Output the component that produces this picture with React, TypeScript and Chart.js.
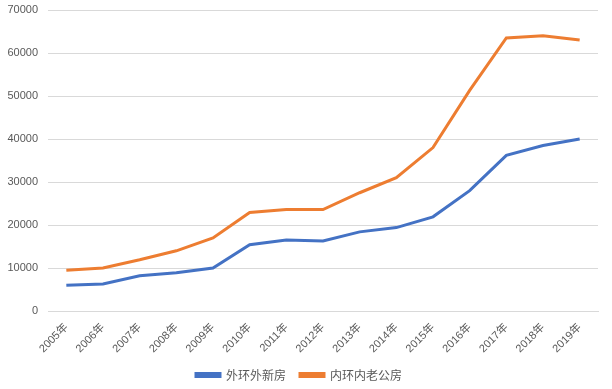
import React, { useEffect, useRef } from "react";
import { Chart, registerables } from "chart.js";

Chart.register(...registerables);

const years = ["2005年","2006年","2007年","2008年","2009年","2010年","2011年","2012年","2013年","2014年","2015年","2016年","2017年","2018年","2019年"];
const outerNew = [6000, 6300, 8200, 8900, 10000, 15400, 16500, 16300, 18400, 19400, 21900, 28000, 36200, 38500, 40000];
const innerOld = [9500, 10000, 11900, 14000, 17000, 22900, 23600, 23600, 27500, 31000, 38000, 51300, 63500, 64000, 63000];
const seriesNames = ["外环外新房", "内环内老公房"];

export default function App() {
  const ref = useRef<HTMLCanvasElement>(null);
  useEffect(() => {
    if (!ref.current) return;
    const font = { family: "'Liberation Sans', Arial, 'Noto Sans CJK SC', sans-serif", size: 11 };
    const chart = new Chart(ref.current, {
      type: "line",
      data: {
        labels: years,
        datasets: [
          { label: seriesNames[0], data: outerNew, borderColor: "#4472C4", backgroundColor: "#4472C4", borderWidth: 3, pointRadius: 0, tension: 0 },
          { label: seriesNames[1], data: innerOld, borderColor: "#ED7D31", backgroundColor: "#ED7D31", borderWidth: 3, pointRadius: 0, tension: 0 },
        ],
      },
      options: {
        animation: false,
        responsive: true,
        maintainAspectRatio: false,
        layout: { padding: { left: 0, right: 14, top: 10, bottom: -2 } },
        plugins: {
          tooltip: { enabled: false },
          legend: {
            position: "bottom",
            labels: {
              color: "#595959",
              font: { family: "'Noto Sans CJK SC', sans-serif", size: 12 },
              boxWidth: 24,
              boxHeight: 3,
              padding: 14,
            },
          },
        },
        scales: {
          x: {
            offset: true,
            grid: { display: false },
            border: { color: "#d9d9d9" },
            ticks: { color: "#595959", font: { ...font, size: 11 }, maxRotation: 45, minRotation: 45, autoSkip: false, padding: 2 },
            afterFit: (s: any) => { s.paddingLeft = 0; s.paddingRight = 0; s.height = 44; },
          },
          y: {
            min: 0,
            max: 70000,
            grid: { color: "#d9d9d9", drawTicks: false },
            border: { display: false },
            ticks: { stepSize: 10000, color: "#595959", font, padding: 10, callback: (v: any) => String(v) },
            afterFit: (s: any) => { s.width = 48; s.paddingTop = 0; s.paddingBottom = 0; },
          },
        },
      },
    });
    return () => chart.destroy();
  }, []);
  return (
    <div style={{ position: "fixed", left: 0, top: 0, width: 612, height: 389 }}>
      <canvas ref={ref} />
    </div>
  );
}
